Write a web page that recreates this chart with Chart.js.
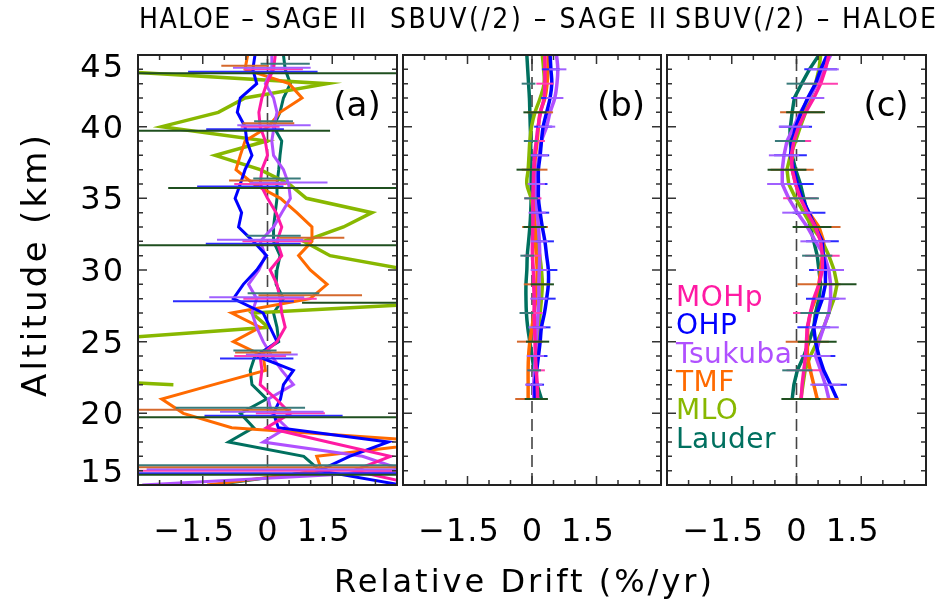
<!DOCTYPE html>
<html>
<head>
<meta charset="utf-8">
<script src="https://cdn.jsdelivr.net/npm/chart.js@4.4.1/dist/chart.umd.min.js"></script>
<style>
  body { margin: 0; background: #fff; }
  canvas.panel { position: absolute; left: 0; top: 0; }
</style>
</head>
<body>
<canvas id="panelA" class="panel" width="941" height="601"></canvas>
<canvas id="panelB" class="panel" width="941" height="601"></canvas>
<canvas id="panelC" class="panel" width="941" height="601"></canvas>
<script>
/* ── DATOS ──
 Tendencias relativas (%/año) por altitud para cada estación lidar.
 Panel (a): 45 → 15 km, paneles (b) y (c): 45 → 21 km. */
var altitudes = [45, 44, 43, 42, 41, 40, 39, 38, 37, 36, 35, 34, 33, 32, 31, 30,
                 29, 28, 27, 26, 25, 24, 23, 22, 21, 20, 19, 18, 17, 16, 15];
var altitudesBC = [45, 44, 43, 42, 41, 40, 39, 38, 37, 36, 35, 34, 33, 32, 31, 30,
                   29, 28, 27, 26, 25, 24, 23, 22, 21];
var estaciones = ['MOHp', 'OHP', 'Tsukuba', 'TMF', 'MLO', 'Lauder'];
var titulos = ['HALOE – SAGE II', 'SBUV(/2) – SAGE II', 'SBUV(/2) – HALOE'];
var letras = ['(a)', '(b)', '(c)'];
var etiquetasX = [-1.5, 0, 1.5];
var etiquetasY = [15, 20, 25, 30, 35, 40, 45];

/* Panel (a): HALOE - SAGE II */
var aMOHp    = [0.18, 0.14, -0.02, -0.13, -0.2, -0.17, -0.05, 0.0, -0.13, -0.17, 0.0, 0.2, 0.33, 0.22, 0.33, 0.06,
                0.22, 0.29, 0.33, 0.41, 0.22, -0.17, -0.13, -0.17, 0.2, 0.53, -0.02, 1.4, 2.85, 2.0, 3.5];
var aOHP     = [-0.29, -0.34, -0.25, -0.63, -0.7, -0.52, -0.48, -0.36, -0.52, -0.63, -0.75, -0.6, -0.67, -0.33, -0.02, -0.25,
                -0.56, -0.79, -0.1, 0.06, 0.22, -0.25, 0.6, 0.37, 0.3, 0.14, 0.25, 2.8, 1.9, 1.2, 3.1];
var aTsukuba = [0.1, 0.1, -0.05, 0.14, 0.22, 0.15, 0.1, 0.14, 0.37, 0.49, 0.53, 0.33, 0.14, -0.17, -0.05, -0.2,
                -0.44, -0.25, -0.36, -0.25, -0.1, 0.1, 0.33, 0.6, 0.02, 0.1, 0.45, -0.1, 2.2, 3.2, -2.9];
var aTMF     = [-0.46, -0.52, 0.5, 0.8, 0.29, 0.02, -0.52, -0.63, -0.73, -0.32, 0.3, 0.68, 1.03, 1.03, 0.72, 0.99,
                1.38, 0.99, -0.83, -0.17, -0.79, -0.1, -0.05, -1.25, -2.45, -1.95, -0.83, 4.0, 1.14, 1.26, -1.4];
var aMLO     = [-5, -4.3, 1.38, -0.52, -1.14, -2.45, -0.02, -1.21, -0.17, 0.5, 0.9, 2.42, 1.76, 0.84, 1.45, 3.3,
                5.0, 5.8, -0.36, 0.02, -4.6, -8, -9, -2.18, null, -6, -7, -7, -6, -5, -6];
var aLauder  = [0.37, 0.41, 0.53, 0.37, 0.29, 0.14, 0.33, 0.29, 0.26, 0.22, 0.22, 0.18, 0.14, 0.14, 0.29, 0.22,
                0.2, 0.37, 0.14, 0.22, 0.26, -0.29, -0.4, -0.36, -0.02, -0.63, -0.32, -0.9, 0.84, 1.22, -1.25];

/* Panel (b): SBUV(/2) - SAGE II */
var bMOHp    = [0.3, 0.3, 0.3, 0.28, 0.2, 0.14, 0.1, 0.06, 0.04, 0.03, 0.02, 0.02, 0.02, 0.01, 0.01,
                0.03, 0.04, 0.05, 0.05, 0.06, 0.07, 0.08, 0.1, 0.12, 0.13];
var bOHP     = [0.42, 0.44, 0.46, 0.42, 0.34, 0.26, 0.22, 0.19, 0.15, 0.15, 0.15, 0.19, 0.24, 0.3, 0.34,
                0.38, 0.38, 0.34, 0.29, 0.22, 0.19, 0.15, 0.11, 0.07, 0.07];
var bTsukuba = [0.57, 0.6, 0.58, 0.53, 0.42, 0.34, 0.22, 0.17, 0.12, 0.1, 0.1, 0.12, 0.15, 0.17, 0.18,
                0.17, 0.16, 0.16, 0.14, 0.12, 0.1, 0.08, 0.06, 0.04, 0.04];
var bTMF     = [0.38, 0.37, 0.35, 0.3, 0.19, 0.15, 0.12, 0.08, 0.06, 0.06, 0.06, 0.06, 0.07, 0.08, 0.1,
                0.12, 0.11, 0.09, 0.05, 0.0, -0.05, -0.08, -0.09, -0.09, -0.09];
var bMLO     = [0.24, 0.27, 0.28, 0.19, 0.07, -0.01, -0.05, -0.07, -0.09, -0.12, -0.02, 0.03, 0.07, 0.12, 0.18,
                0.22, 0.24, 0.22, 0.19, 0.16, 0.13, 0.1, 0.08, 0.07, 0.1];
var bLauder  = [-0.12, -0.1, -0.08, -0.06, -0.05, -0.04, -0.03, -0.03, -0.02, -0.02, -0.02, -0.03, -0.05, -0.08, -0.11,
                -0.12, -0.14, -0.14, -0.13, -0.1, -0.05, 0.0, 0.05, 0.12, 0.22];

/* Panel (c): SBUV(/2) - HALOE */
var cMOHp    = [0.75, 0.67, 0.56, 0.4, 0.21, 0.05, -0.06, -0.12, -0.1, -0.02, 0.09, 0.25, 0.44, 0.56, 0.6,
                0.6, 0.52, 0.4, 0.32, 0.25, 0.23, 0.21, 0.17, 0.13, 0.11];
var cOHP     = [0.71, 0.56, 0.44, 0.26, 0.11, -0.02, -0.1, -0.14, -0.06, 0.02, 0.13, 0.29, 0.44, 0.6, 0.62,
                0.67, 0.67, 0.6, 0.48, 0.4, 0.44, 0.52, 0.63, 0.79, 0.94];
var cTsukuba = [0.79, 0.63, 0.48, 0.29, 0.09, -0.06, -0.22, -0.29, -0.33, -0.33, -0.18, 0.02, 0.25, 0.44, 0.65,
                0.75, 0.79, 0.79, 0.75, 0.63, 0.52, 0.44, 0.56, 0.67, 0.75];
var cTMF     = [0.73, 0.58, 0.45, 0.28, 0.12, 0.0, -0.08, -0.1, -0.1, -0.02, 0.09, 0.29, 0.52, 0.63, 0.6,
                0.56, 0.52, 0.44, 0.32, 0.26, 0.25, 0.25, 0.32, 0.4, 0.48];
var cMLO     = [0.56, 0.52, 0.44, 0.32, 0.21, 0.09, -0.02, -0.14, -0.22, -0.18, -0.02, 0.17, 0.36, 0.6, 0.75,
                0.87, 0.94, 0.87, 0.75, 0.63, 0.48, 0.32, 0.2, 0.15, 0.1];
var cLauder  = [0.52, 0.3, 0.12, -0.05, -0.1, -0.14, -0.15, -0.1, -0.02, 0.09, 0.17, 0.25, 0.32, 0.4, 0.48,
                0.52, 0.56, 0.52, 0.44, 0.4, 0.29, 0.17, 0.02, -0.06, -0.1];

/* Barras de error (semi-anchura en %/año).
 Panel (a): solo en algunas altitudes, una fila por estación. */
var barrasA = [44, 40, 36, 32, 28, 24, 20, 16];
var erroresA = [
  [0.68, 0.45, 0.6, 0.8, 0.85, 0.6, 0.8, 5],     /* MOHp */
  [1.5, 0.9, 1.0, 1.1, 1.4, 0.85, 1.6, 5],       /* OHP */
  [0.9, 0.85, 0.9, 1.0, 1.1, 0.6, 1.2, 6],       /* Tsukuba */
  [0.55, 0.6, 0.57, 0.75, 1.2, 0.65, 2.5, 5],    /* TMF */
  [8, 3.9, 2.8, 6, 5, 4, 9.5, 9],                /* MLO */
  [0.57, 0.45, 0.55, 0.63, 0.83, 0.5, 1.5, 4.3]  /* Lauder */
];
/* Paneles (b) y (c): altitudes con barra para cada estación y semi-anchura fija */
var barrasBC = [
  [43, 39, 35, 31, 27, 23],
  [44, 42, 40, 38, 36, 34, 32, 30, 28, 26, 24, 22],
  [44, 42, 40, 38, 36, 34, 32, 30, 28, 26, 24, 22],
  [41, 37, 33, 29, 25, 21],
  [41, 37, 33, 29, 25, 21],
  [43, 39, 35, 31, 27, 23]
];
var erroresB = [0.2, 0.21, 0.2, 0.3, 0.27, 0.16];
var erroresC = [0.4, 0.38, 0.35, 0.5, 0.45, 0.35];

/* ── ESTILOS ── */
var colores = ['#ff1aa3', '#0000ff', '#b050ff', '#ff6a00', '#88b800', '#00705f'];
var coloresError = ['#ff3fb0', '#2a2aff', '#a060ff', '#d5692d', '#1f4f1f', '#3a7b7b'];
/* Pequeño desplazamiento vertical (px) de las barras del panel (a) */
var desplazA = [0, 2.5, -1.5, -3.5, 4, -5.5];
var fuenteRedonda = "'DejaVu Sans', sans-serif";
var fuenteEstrecha = "'DejaVu Sans Condensed', 'Liberation Sans Narrow', sans-serif";

/* Escribe un texto con espacio extra entre letras (en px) */
function textoEspaciado(ctx, texto, x, y, espacio, alinear) {
    ctx.letterSpacing = '0px';
    var n = Array.from(texto).length;
    var ancho = ctx.measureText(texto).width + espacio * (n - 1);
    var x0 = x;
    if (alinear === 'center') x0 = x - ancho / 2;
    if (alinear === 'right') x0 = x - ancho;
    ctx.letterSpacing = espacio + 'px';
    ctx.textAlign = 'left';
    ctx.fillText(texto, x0, y);
    ctx.letterSpacing = '0px';
}

/* Escribe un texto ajustando el espaciado para que ocupe un ancho dado */
function textoAjustado(ctx, texto, x, y, ancho, alinear) {
    ctx.letterSpacing = '0px';
    var n = Array.from(texto).length;
    var w = ctx.measureText(texto).width;
    textoEspaciado(ctx, texto, x, y, (ancho - w) / (n - 1), alinear || 'left');
}

/* ── FUNCIÓN: crearPanel ──
 Crea un gráfico (un panel) con su marco, marcas, etiquetas y barras de error. */
function crearPanel(idCanvas, caja, series, alts, barras, tension, indice, extras) {
    var datasets = series.map(function (valores, s) {
        return {
            label: estaciones[s],
            data: alts.map(function (alt, i) { return { x: valores[i], y: alt }; }),
            borderColor: colores[s],
            borderWidth: indice === 0 ? (s === 4 ? 3.5 : 3) : 3.5,
            showLine: true,
            pointRadius: 0,
            tension: tension,
            spanGaps: false
        };
    });

    var marco = {
        id: 'marco' + indice,
        /* Línea discontinua en cero, debajo de las curvas */
        beforeDatasetsDraw: function (chart) {
            var ctx = chart.ctx, a = chart.chartArea;
            var x0 = chart.scales.x.getPixelForValue(0);
            ctx.save();
            ctx.strokeStyle = '#444';
            ctx.lineWidth = 1.6;
            ctx.setLineDash([12, 6]);
            ctx.beginPath();
            ctx.moveTo(x0, a.bottom);
            ctx.lineTo(x0, a.top);
            ctx.stroke();
            ctx.restore();
        },
        afterDatasetsDraw: function (chart) {
            var ctx = chart.ctx, a = chart.chartArea;
            var sx = chart.scales.x, sy = chart.scales.y;

            /* Barras de error recortadas al área del panel */
            ctx.save();
            ctx.beginPath();
            ctx.rect(a.left, a.top, a.right - a.left, a.bottom - a.top);
            ctx.clip();
            ctx.lineWidth = 2;
            barras.forEach(function (b) {
                var y = sy.getPixelForValue(b.alt) + (indice === 0 ? desplazA[b.serie] : 0);
                ctx.strokeStyle = coloresError[b.serie];
                ctx.beginPath();
                ctx.moveTo(sx.getPixelForValue(b.valor - b.mitad), y);
                ctx.lineTo(sx.getPixelForValue(b.valor + b.mitad), y);
                ctx.stroke();
            });
            ctx.restore();

            /* Marco y marcas hacia dentro */
            ctx.save();
            ctx.strokeStyle = '#333';
            ctx.lineWidth = 1.5;
            var v, x, y, largo;
            ctx.beginPath();
            for (v = -2.5; v <= 2.51; v += 0.5) {
                x = sx.getPixelForValue(v);
                largo = Math.abs(v % 1.5) < 0.01 ? 9 : 5;
                ctx.moveTo(x, a.bottom); ctx.lineTo(x, a.bottom - largo);
                ctx.moveTo(x, a.top); ctx.lineTo(x, a.top + largo);
            }
            for (v = 16; v <= 44; v++) {
                y = sy.getPixelForValue(v);
                largo = v % 5 === 0 ? 9 : 5;
                ctx.moveTo(a.left, y); ctx.lineTo(a.left + largo, y);
                ctx.moveTo(a.right, y); ctx.lineTo(a.right - largo, y);
            }
            ctx.stroke();
            ctx.strokeStyle = '#222';
            ctx.lineWidth = 2;
            ctx.strokeRect(a.left, a.top, a.right - a.left, a.bottom - a.top);
            ctx.restore();

            /* Etiquetas del eje X */
            ctx.save();
            ctx.fillStyle = '#000';
            ctx.font = '32px ' + fuenteRedonda;
            etiquetasX.forEach(function (e) {
                var texto = e < 0 ? '−' + Math.abs(e) : String(e);
                var xe = sx.getPixelForValue(e) + (e === 0 ? 0 : -9);
                textoEspaciado(ctx, texto, xe, 541, 1, 'center');
            });

            /* Letra del panel */
            ctx.font = '34px ' + fuenteRedonda;
            textoEspaciado(ctx, letras[indice], a.right - 40, 116, 0, 'center');

            /* Título encima del panel */
            ctx.font = '28px ' + fuenteEstrecha;
            textoAjustado(ctx, titulos[indice], caja.tituloX, 28, caja.tituloAncho);
            ctx.restore();

            if (extras) extras(chart);
        }
    };

    return new Chart(document.getElementById(idCanvas), {
        type: 'scatter',
        data: { datasets: datasets },
        options: {
            responsive: false,
            animation: false,
            devicePixelRatio: 1,
            layout: { padding: { left: caja.izq, right: 941 - caja.der, top: 55, bottom: 601 - 485 } },
            plugins: { legend: { display: false }, tooltip: { enabled: false } },
            scales: {
                x: { type: 'linear', min: -3, max: 3, display: false },
                y: { type: 'linear', min: 15, max: 45, display: false }
            }
        },
        plugins: [marco]
    });
}

/* Lista de barras de error del panel (a) */
function barrasPanelA(series) {
    var lista = [];
    series.forEach(function (valores, s) {
        barrasA.forEach(function (alt, k) {
            var v = valores[altitudes.indexOf(alt)];
            if (v !== null) lista.push({ serie: s, alt: alt, valor: v, mitad: erroresA[s][k] });
        });
    });
    return lista;
}

/* Lista de barras de error de los paneles (b) y (c) */
function barrasPanelBC(series, errores) {
    var lista = [];
    series.forEach(function (valores, s) {
        barrasBC[s].forEach(function (alt) {
            var v = valores[altitudesBC.indexOf(alt)];
            if (v !== null) lista.push({ serie: s, alt: alt, valor: v, mitad: errores[s] });
        });
    });
    return lista;
}

var seriesA = [aMOHp, aOHP, aTsukuba, aTMF, aMLO, aLauder];
var seriesB = [bMOHp, bOHP, bTsukuba, bTMF, bMLO, bLauder];
var seriesC = [cMOHp, cOHP, cTsukuba, cTMF, cMLO, cLauder];

/* Panel (a): incluye el eje Y, su título y el título del eje X */
crearPanel('panelA', { izq: 138, der: 397, tituloX: 139, tituloAncho: 227 },
    seriesA, altitudes, barrasPanelA(seriesA), 0, 0, function (chart) {
        var ctx = chart.ctx, sy = chart.scales.y;
        ctx.save();
        ctx.fillStyle = '#000';
        ctx.font = '32px ' + fuenteRedonda;
        etiquetasY.forEach(function (e) {
            var y = sy.getPixelForValue(e) + 11;
            if (e === 45) y += 11;
            if (e === 15) y -= 14;
            textoEspaciado(ctx, String(e), 123, y, 2, 'right');
        });
        /* Título del eje Y, girado */
        ctx.translate(46, 266);
        ctx.rotate(-Math.PI / 2);
        ctx.font = '34px ' + fuenteRedonda;
        textoAjustado(ctx, 'Altitude (km)', 0, 0, 262, 'center');
        ctx.restore();

        /* Título del eje X, común a los tres paneles */
        ctx.save();
        ctx.fillStyle = '#000';
        ctx.font = '32px ' + fuenteRedonda;
        textoAjustado(ctx, 'Relative Drift (%/yr)', 334, 592, 378);
        ctx.restore();
    });

crearPanel('panelB', { izq: 403, der: 661, tituloX: 390, tituloAncho: 276 },
    seriesB, altitudesBC, barrasPanelBC(seriesB, erroresB), 0.4, 1, null);

/* Panel (c): incluye la leyenda de estaciones */
crearPanel('panelC', { izq: 667, der: 926, tituloX: 675, tituloAncho: 261 },
    seriesC, altitudesBC, barrasPanelBC(seriesC, erroresC), 0, 2, function (chart) {
        var ctx = chart.ctx;
        ctx.save();
        ctx.font = '28px ' + fuenteRedonda;
        estaciones.forEach(function (nombre, s) {
            ctx.fillStyle = colores[s];
            textoEspaciado(ctx, nombre, 676, 306 + s * 28.3, 0.5, 'left');
        });
        ctx.restore();
    });
</script>
</body>
</html>
